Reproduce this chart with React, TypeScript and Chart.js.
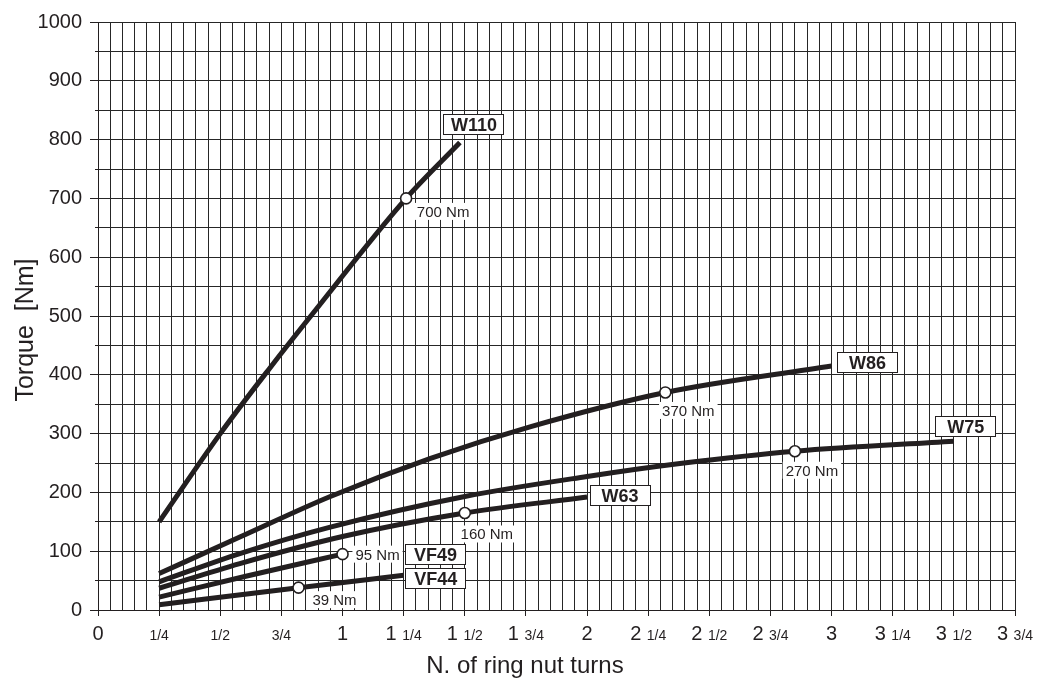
import { useEffect, useRef } from 'react';
import { Chart, registerables } from 'chart.js';

Chart.register(...registerables);

// ---- data (turns of ring nut vs torque in Nm) ----
const seriesNames = ['W110', 'W86', 'W75', 'W63', 'VF49', 'VF44'];
const w110Turns = [0.25, 0.5, 0.7, 0.88, 1.26, 1.48];
const w110Torque = [150, 300, 410, 505, 700, 795];
const w86Turns = [0.25, 0.58, 0.95, 1.36, 1.77, 2.32, 3.0];
const w86Torque = [62, 124, 193, 258, 312, 370, 415];
const w75Turns = [0.25, 0.58, 0.95, 1.5, 2.0, 2.38, 2.85, 3.5];
const w75Torque = [48, 96, 141, 193, 227, 249, 270, 287];
const w63Turns = [0.25, 0.58, 1.0, 1.5, 2.0];
const w63Torque = [37, 79, 125, 165, 192];
const vf49Turns = [0.25, 0.6, 1.0];
const vf49Torque = [22, 57, 95];
const vf44Turns = [0.25, 0.82, 1.25];
const vf44Torque = [9, 38, 59];

// index of the marked point in each series and its label
const markerIndex = [4, 5, 6, 3, 2, 1];
const markerLabels = ['700 Nm', '370 Nm', '270 Nm', '160 Nm', '95 Nm', '39 Nm'];

// axis ticks
const xTickLabels = [
  '0', '1/4', '1/2', '3/4', '1', '1 1/4', '1 1/2', '1 3/4',
  '2', '2 1/4', '2 1/2', '2 3/4', '3', '3 1/4', '3 1/2', '3 3/4',
];
const yTickLabels = ['0', '100', '200', '300', '400', '500', '600', '700', '800', '900', '1000'];

const xTitle = 'N. of ring nut turns';
const yTitle = 'Torque  [Nm]';

// ---- styling / layout (pixel offsets of annotations) ----
const INK = '#231f20';
const GRID = '#262626';
const FONT = '"Liberation Sans", Arial, Helvetica, sans-serif';
const nameBoxOffsets: [number, number][] = [[14, -18], [36, -3], [12, -15], [33, -2], [93, 0], [32, 3]];
const valueLabelOffsets: [number, number][] = [[37, 13], [23, 18], [17, 19], [22, 21], [35, 0], [36, 12]];

const seriesTurns = [w110Turns, w86Turns, w75Turns, w63Turns, vf49Turns, vf44Turns];
const seriesTorque = [w110Torque, w86Torque, w75Torque, w63Torque, vf49Torque, vf44Torque];

const alignPx = (p: number) => Math.round(p - 0.5) + 0.5;

const overlayPlugin = {
  id: 'overlay',
  afterDatasetsDraw(chart: any) {
    const { ctx, chartArea } = chart;
    const xs = chart.scales.x;
    const ys = chart.scales.y;
    ctx.save();

    // minor y ticks (every 50 between hundreds)
    ctx.strokeStyle = INK;
    ctx.lineWidth = 1;
    for (let i = 0; i < yTickLabels.length - 1; i++) {
      const v = Number(yTickLabels[i]) + 50;
      const py = alignPx(ys.getPixelForValue(v));
      ctx.beginPath();
      ctx.moveTo(chartArea.left - 3, py);
      ctx.lineTo(chartArea.left, py);
      ctx.stroke();
    }

    // x tick labels with big whole number and small fraction
    const bigFont = `20px ${FONT}`;
    const smallFont = `14px ${FONT}`;
    ctx.fillStyle = INK;
    ctx.textBaseline = 'alphabetic';
    ctx.textAlign = 'left';
    const baseY = chartArea.bottom + 29.5;
    xTickLabels.forEach((lab, i) => {
      const px = xs.getPixelForValue(i / 4);
      let whole = '';
      let frac = '';
      if (lab.includes(' ')) {
        [whole, frac] = lab.split(' ');
        whole += ' ';
      } else if (lab.includes('/')) {
        frac = lab;
      } else {
        whole = lab;
      }
      ctx.font = bigFont;
      const wW = whole ? ctx.measureText(whole).width : 0;
      ctx.font = smallFont;
      const fW = frac ? ctx.measureText(frac).width : 0;
      let sx = px - (wW + fW) / 2;
      if (whole) {
        ctx.font = bigFont;
        ctx.fillText(whole, sx, baseY);
        sx += wW;
      }
      if (frac) {
        ctx.font = smallFont;
        ctx.fillText(frac, sx, baseY);
      }
    });

    // axis titles
    ctx.font = `24px ${FONT}`;
    ctx.textAlign = 'center';
    ctx.textBaseline = 'alphabetic';
    ctx.fillText(xTitle, 525, chartArea.bottom + 63);
    ctx.save();
    ctx.translate(26, 330);
    ctx.rotate(-Math.PI / 2);
    ctx.textBaseline = 'middle';
    ctx.font = `25px ${FONT}`;
    ctx.fillText(yTitle, 0, 0);
    ctx.restore();

    // value labels next to markers
    ctx.font = `15px ${FONT}`;
    markerLabels.forEach((lab, s) => {
      const idx = markerIndex[s];
      const px = xs.getPixelForValue(seriesTurns[s][idx]) + valueLabelOffsets[s][0];
      const py = ys.getPixelForValue(seriesTorque[s][idx]) + valueLabelOffsets[s][1];
      const w = ctx.measureText(lab).width + 6;
      ctx.fillStyle = '#ffffff';
      ctx.fillRect(px - w / 2, py - 8.5, w, 17);
      ctx.fillStyle = INK;
      ctx.textAlign = 'center';
      ctx.textBaseline = 'alphabetic';
      ctx.fillText(lab, px, py + 5.5);
    });

    // series name boxes near line ends
    ctx.font = `bold 18px ${FONT}`;
    seriesNames.forEach((name, s) => {
      const last = seriesTurns[s].length - 1;
      const cx = xs.getPixelForValue(seriesTurns[s][last]) + nameBoxOffsets[s][0];
      const cy = ys.getPixelForValue(seriesTorque[s][last]) + nameBoxOffsets[s][1];
      const bx = alignPx(cx - 30);
      const by = alignPx(cy - 10);
      ctx.fillStyle = '#ffffff';
      ctx.fillRect(bx, by, 60, 20);
      ctx.strokeStyle = INK;
      ctx.lineWidth = 1;
      ctx.strokeRect(bx, by, 60, 20);
      ctx.fillStyle = INK;
      ctx.textAlign = 'center';
      ctx.textBaseline = 'alphabetic';
      ctx.fillText(name, cx, cy + 6.5);
    });

    ctx.restore();
  },
};

export default function App() {
  const ref = useRef<HTMLCanvasElement | null>(null);

  useEffect(() => {
    if (!ref.current) return;
    const lineSets = seriesNames.map((name, s) => ({
      type: 'line' as const,
      label: name,
      data: seriesTurns[s].map((t, i) => ({ x: t, y: seriesTorque[s][i] })),
      borderColor: INK,
      borderWidth: 5,
      borderCapStyle: 'butt' as const,
      cubicInterpolationMode: 'monotone' as const,
      pointRadius: 0,
      fill: false,
      order: 2,
    }));
    const markerSet = {
      type: 'line' as const,
      label: 'markers',
      data: seriesNames.map((_, s) => ({
        x: seriesTurns[s][markerIndex[s]],
        y: seriesTorque[s][markerIndex[s]],
      })),
      showLine: false,
      pointRadius: 5.5,
      pointBackgroundColor: '#ffffff',
      pointBorderColor: INK,
      pointBorderWidth: 1.6,
      order: 1,
    };

    const chart = new Chart(ref.current, {
      type: 'line',
      data: { datasets: [...lineSets, markerSet] as any },
      options: {
        animation: false,
        responsive: false,
        devicePixelRatio: 1,
        layout: { padding: { left: 0, right: 22, top: 22, bottom: 0 } },
        plugins: { legend: { display: false }, tooltip: { enabled: false } },
        scales: {
          x: {
            type: 'linear',
            min: 0,
            max: 3.75,
            afterBuildTicks: (axis: any) => {
              const t = [];
              for (let i = 0; i <= 75; i++) t.push({ value: (i * 5) / 100 });
              axis.ticks = t;
            },
            afterFit: (axis: any) => {
              axis.height = 70;
            },
            ticks: { display: false, autoSkip: false },
            grid: {
              color: GRID,
              lineWidth: 1,
              drawTicks: true,
              tickLength: 6,
              tickColor: (c: any) => (c.index % 5 === 0 ? INK : 'rgba(0,0,0,0)'),
            },
            border: { color: INK, width: 1 },
          },
          y: {
            type: 'linear',
            min: 0,
            max: 1000,
            afterBuildTicks: (axis: any) => {
              const t = [];
              for (let i = 0; i <= 20; i++) t.push({ value: i * 50 });
              axis.ticks = t;
            },
            afterFit: (axis: any) => {
              axis.width = 98;
            },
            ticks: {
              autoSkip: false,
              padding: 8,
              color: INK,
              font: { size: 20, family: FONT },
              callback: (v: any) => {
                const k = yTickLabels.indexOf(String(v));
                return k >= 0 ? yTickLabels[k] : '';
              },
            },
            grid: {
              color: GRID,
              lineWidth: 1,
              drawTicks: true,
              tickLength: 8,
              tickColor: (c: any) => (c.index % 2 === 0 ? INK : 'rgba(0,0,0,0)'),
            },
            border: { color: INK, width: 1 },
          },
        },
      },
      plugins: [overlayPlugin],
    });
    return () => chart.destroy();
  }, []);

  return (
    <div style={{ position: 'absolute', left: 0, top: 0, width: 1037, height: 680, background: '#fff' }}>
      <canvas ref={ref} width={1037} height={680} style={{ display: 'block' }} />
    </div>
  );
}
